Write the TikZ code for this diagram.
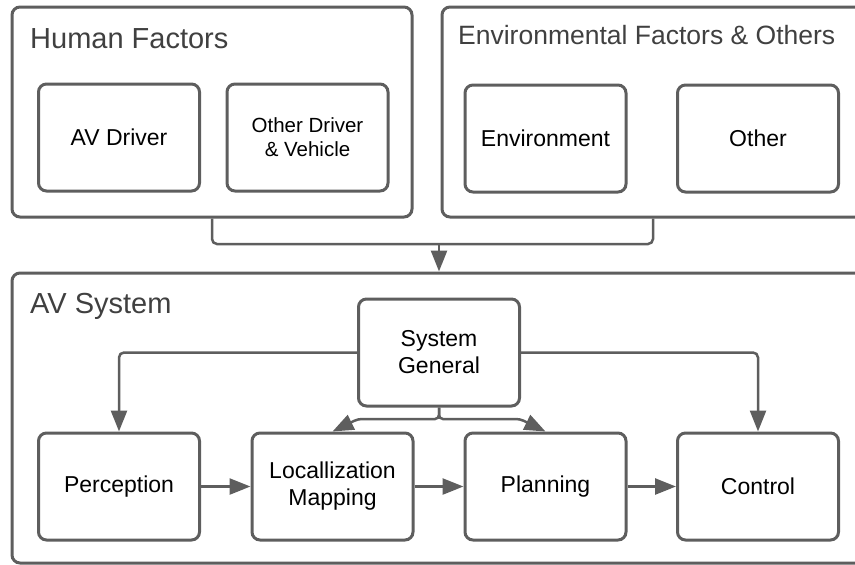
\documentclass[tikz,border=0pt]{standalone}
\usepackage{fontspec}
\setmainfont{Liberation Sans}
\usetikzlibrary{arrows.meta}

\definecolor{linegray}{HTML}{5E5E5E}
\definecolor{titlegray}{HTML}{404040}

\begin{document}
\begin{tikzpicture}[x=1pt, y=-1pt,
    group/.style = {draw=linegray, line width=3pt, rounded corners=8pt, inner sep=0pt},
    box/.style = {draw=linegray, line width=3pt, rounded corners=8pt, inner sep=0pt,
        minimum width=161pt, minimum height=107pt, align=center,
        font=\fontsize{23}{27}\selectfont},
    title/.style = {anchor=base west, text=titlegray, inner sep=0pt,
        font=\fontsize{29}{34}\selectfont},
    conn/.style = {draw=linegray, line width=2.5pt, rounded corners=5pt},
    arr/.style = {conn, -{Triangle[length=21pt, width=16pt]}}]
    \useasboundingbox (0,0) rectangle (855,565);
    \clip (0,0) rectangle (855,565);

    % outer groups
    \node[group, minimum width=400pt, minimum height=210pt] (hum) at (212,112) {};
    \node[group, minimum width=422pt, minimum height=210pt] (env) at (653,112) {};
    \node[group, minimum width=854pt, minimum height=290pt] (avs) at (439,418) {};
    \node[title] (humtitle) at (30,48) {Human Factors};
    \node[title, font=\fontsize{26.5}{31}\selectfont] (envtitle) at (458,44) {Environmental Factors \& Others};
    \node[title] (avstitle) at (30,313) {AV System};

    % factors
    \node[box] (drv) at (119,137.5) {AV Driver};
    \node[box, font=\fontsize{20.5}{24}\selectfont] (oth) at (307.5,137.5) {Other Driver\\\& Vehicle};
    \node[box] (envi) at (545.5,138.5) {Environment};
    \node[box] (other) at (758,138.5) {Other};

    % AV system
    \node[box] (sg) at (439,352.5) {System\\General};
    \node[box] (per) at (119,486.5) {Perception};
    \node[box] (loc) at (332.5,486.5) {Locallization\\Mapping};
    \node[box] (pln) at (545.5,486.5) {Planning};
    \node[box] (ctl) at (758,486.5) {Control};

    \coordinate (join) at (439,244);
    \draw[conn] (hum.south) |- (join) -| (env.south);
    \draw[arr] (join) -- (avs.north);

    \draw[arr] (sg.west) -| (per.north);
    \draw[arr] (sg.east) -| (ctl.north);
    \draw[arr, rounded corners=4pt] (sg.south) |- (358,419) -- (loc.north);
    \draw[arr, rounded corners=4pt] (sg.south) |- (520,419) -- (pln.north);

    \draw[arr] (per) -- (loc);
    \draw[arr] (loc) -- (pln);
    \draw[arr] (pln) -- (ctl);
\end{tikzpicture}
\end{document}
